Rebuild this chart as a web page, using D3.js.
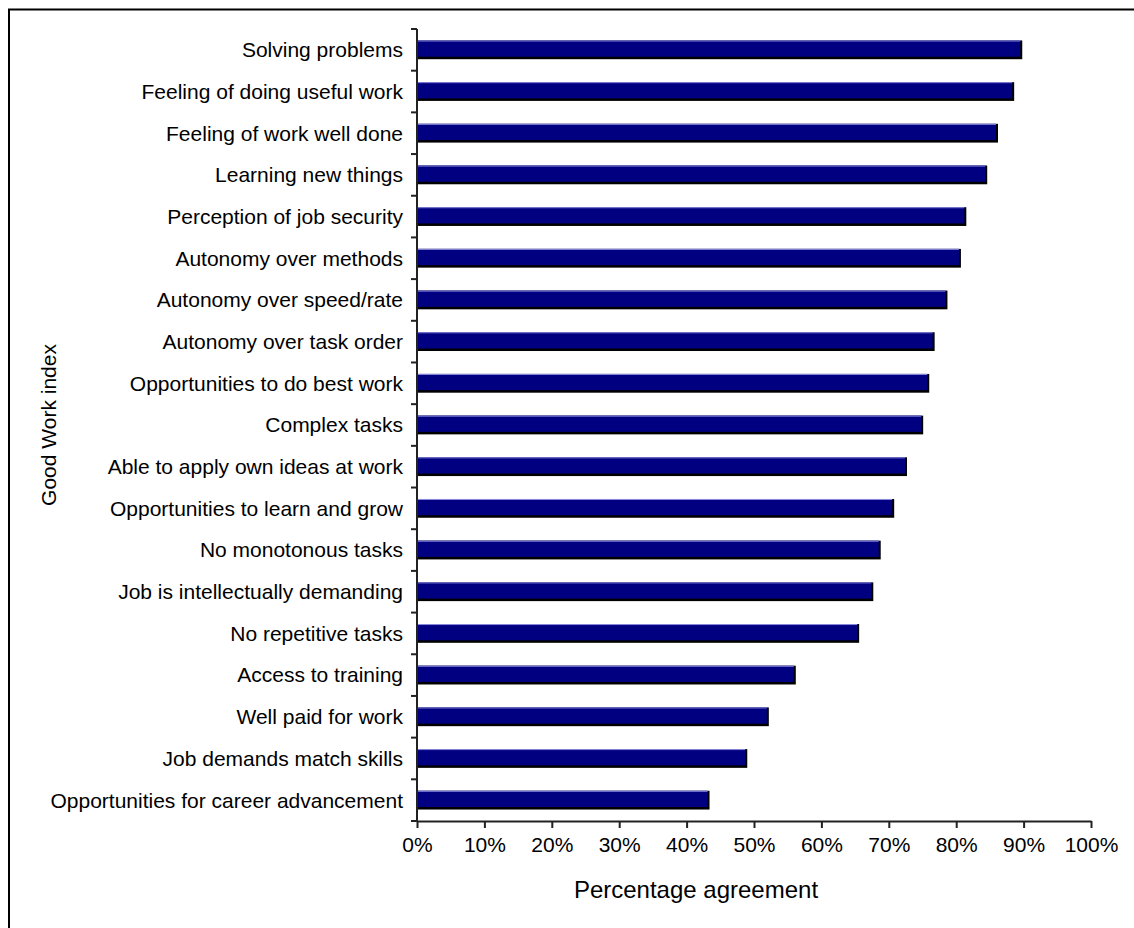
<!DOCTYPE html>
<html>
<head>
<meta charset="utf-8">
<script src="https://cdn.jsdelivr.net/npm/d3@7"></script>
<style>
  body { margin: 0; background: #fff; }
  text { font-family: "Liberation Sans", Arial, sans-serif; fill: #000; }
</style>
</head>
<body>
<script>
const categories = [
    "Solving problems",
    "Feeling of doing useful work",
    "Feeling of work well done",
    "Learning new things",
    "Perception of job security",
    "Autonomy over methods",
    "Autonomy over speed/rate",
    "Autonomy over task order",
    "Opportunities to do best work",
    "Complex tasks",
    "Able to apply own ideas at work",
    "Opportunities to learn and grow",
    "No monotonous tasks",
    "Job is intellectually demanding",
    "No repetitive tasks",
    "Access to training",
    "Well paid for work",
    "Job demands match skills",
    "Opportunities for career advancement"
];
const values = [89.8, 88.6, 86.2, 84.6, 81.5, 80.7, 78.7, 76.8, 76.0, 75.1,
                72.7, 70.8, 68.8, 67.7, 65.6, 56.2, 52.2, 49.0, 43.4];
const xTicks = [0, 10, 20, 30, 40, 50, 60, 70, 80, 90, 100];

const width = 1134, height = 928;
const plotLeft = 417, plotRight = 1091, plotTop = 29, plotBottom = 821;

const svg = d3.select('body').append('svg')
    .attr('width', width)
    .attr('height', height);

// outer frame (top and left edges only)
svg.append('path')
    .attr('d', `M9,${height} V9.5 H${width}`)
    .attr('fill', 'none')
    .attr('stroke', '#000')
    .attr('stroke-width', 2);

const x = d3.scaleLinear().domain([0, 100]).range([plotLeft, plotRight]);
const y = d3.scaleBand().domain(categories).range([plotTop, plotBottom]).paddingInner(0.55).paddingOuter(0.275);

// bars
const bars = svg.append('g').selectAll('g')
    .data(categories.map((c, i) => ({ name: c, value: values[i] })))
    .enter().append('g');

bars.append('rect')
    .attr('x', x(0))
    .attr('y', d => y(d.name))
    .attr('width', d => x(d.value) - x(0))
    .attr('height', y.bandwidth())
    .attr('fill', '#000');

bars.append('rect')
    .attr('x', x(0))
    .attr('y', d => y(d.name))
    .attr('width', d => x(d.value) - x(0) - 2)
    .attr('height', y.bandwidth() - 2.5)
    .attr('fill', '#000080');

bars.append('rect')
    .attr('x', x(0))
    .attr('y', d => y(d.name))
    .attr('width', d => x(d.value) - x(0) - 2)
    .attr('height', 1)
    .attr('fill', '#8c8ce0');

// y axis with ticks between categories
const yAxis = svg.append('g');
yAxis.append('line')
    .attr('x1', plotLeft).attr('x2', plotLeft)
    .attr('y1', plotTop).attr('y2', plotBottom)
    .attr('stroke', '#222').attr('stroke-width', 2);
const step = (plotBottom - plotTop) / categories.length;
yAxis.selectAll('line.tick')
    .data(d3.range(categories.length + 1))
    .enter().append('line')
    .attr('class', 'tick')
    .attr('x1', plotLeft - 6).attr('x2', plotLeft)
    .attr('y1', i => plotTop + i * step).attr('y2', i => plotTop + i * step)
    .attr('stroke', '#222').attr('stroke-width', 2);
yAxis.selectAll('text')
    .data(categories)
    .enter().append('text')
    .attr('x', plotLeft - 14)
    .attr('y', d => y(d) + y.bandwidth() / 2)
    .attr('dy', '0.35em')
    .attr('text-anchor', 'end')
    .style('font-size', '21px')
    .text(d => d);

// x axis
const xAxis = svg.append('g')
    .attr('transform', `translate(0,${plotBottom})`)
    .call(d3.axisBottom(x).tickValues(xTicks).tickFormat(d => d + '%').tickSize(7).tickSizeOuter(0).tickPadding(9));
xAxis.select('.domain').attr('stroke', '#222').attr('stroke-width', 2);
xAxis.selectAll('.tick line').attr('stroke', '#222').attr('stroke-width', 2);
xAxis.selectAll('.tick text')
    .style('font-size', '21px')
    .style('font-family', '"Liberation Sans", Arial, sans-serif')
    .attr('fill', '#000');

// axis titles
svg.append('text')
    .attr('x', 696)
    .attr('y', 898)
    .attr('text-anchor', 'middle')
    .style('font-size', '24px')
    .text('Percentage agreement');

svg.append('text')
    .attr('transform', `translate(56,${(plotTop + plotBottom) / 2}) rotate(-90)`)
    .attr('text-anchor', 'middle')
    .style('font-size', '21px')
    .text('Good Work index');
</script>
</body>
</html>
